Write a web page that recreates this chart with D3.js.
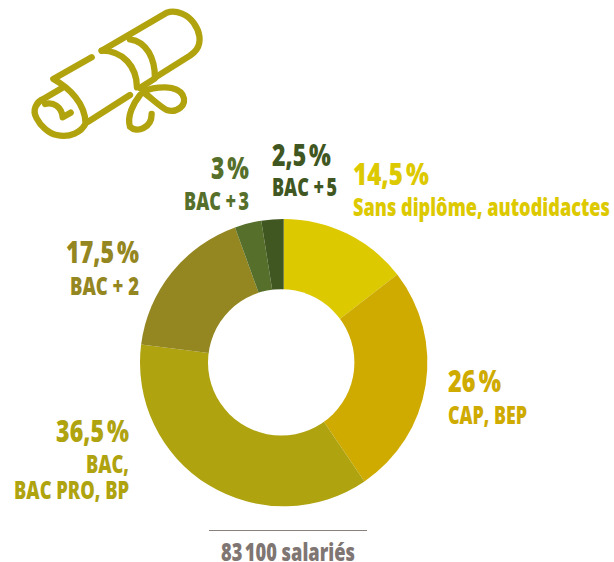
<!DOCTYPE html>
<html><head><meta charset="utf-8">
<script src="https://cdn.jsdelivr.net/npm/d3@7"></script>
<style>html,body{margin:0;background:#fff}svg{display:block}text{font-family:"Open Sans";font-weight:800}</style>
</head><body><svg id="c" width="614" height="562"></svg>
<script>
const categories=["Sans diplôme, autodidactes","CAP, BEP","BAC, BAC PRO, BP","BAC + 2","BAC +\u202F3","BAC +\u202F5"];
const values=[14.5,26,36.5,17.5,3,2.5];
const valueLabels=["14,5\u202F%","26\u202F%","36,5\u202F%","17,5\u202F%","3\u202F%","2,5\u202F%"];
const colors=["#ddc900","#cfab00","#afa30f","#948620","#56702b","#415722"];
const total="83\u202F100 salariés";
const svg=d3.select("#c");
const pie=d3.pie().sort(null).value(d=>d)(values);
const arc=d3.arc().innerRadius(0).outerRadius(143.7);
svg.append("g").attr("transform","translate(283.7,362.6)").selectAll("path").data(pie).join("path")
 .attr("d",arc).attr("fill",(d,i)=>colors[i]);
svg.append("circle").attr("cx",281.2).attr("cy",362.4).attr("r",73.2).attr("fill","#fff");
function label(lines,x,y,size,w,anchor,fill,lh){
 const t=svg.append("text").attr("font-size",size).attr("text-anchor",anchor).attr("fill",fill);
 [].concat(lines).forEach((s,i)=>t.append("tspan").attr("x",0).attr("dy",i?lh:0).text(s));
 const len=t.node().getBBox().width;
 t.attr("transform",`translate(${x},${y}) scale(${w/len},1)`);
 return t;
}
label(valueLabels[0],353,185,29.5,76,"start",colors[0]);
label(categories[0],353,216,24,257,"start",colors[0]);
label(valueLabels[1],448,392,29.5,53,"start",colors[1]);
label(categories[1],448,424,24,79,"start",colors[1]);
label(valueLabels[2],129,441.7,29.5,73,"end",colors[2]);
label(["BAC,","BAC PRO, BP"],129,472.7,24,115,"end",colors[2],26);
label(valueLabels[3],139,263,29.5,73,"end",colors[3]);
label(categories[3],139,295,24,69,"end",colors[3]);
label(valueLabels[4],249,179,29.5,38,"end",colors[4]);
label(categories[4],249,210,24,65,"end",colors[4]);
label(valueLabels[5],272,166,29.5,59,"start",colors[5]);
label(categories[5],272,196,24,65,"start",colors[5]);
svg.append("line").attr("x1",209).attr("x2",367).attr("y1",530.5).attr("y2",530.5).attr("stroke","#8a807c").attr("stroke-width",1);
label(total,221,561,24,134,"start","#7f7673");
const icon=svg.append("g").attr("transform","translate(20,0) scale(0.3333)").attr("fill","none").attr("stroke","#b1a30e").attr("stroke-width",19).attr("stroke-linecap","round").attr("stroke-linejoin","round");
["M245,152 L440,38 C470,28 505,45 522,70 C540,95 545,125 530,148 C525,155 520,160 510,167 L405,233",
 "M245,152 C310,152 350,200 351,262",
 "M330,118 C380,125 405,175 405,235 L360,264",
 "M330,285 L205,365",
 "M215,172 L100,237 C150,265 195,310 197,370 C185,395 150,415 110,405 C85,400 60,375 50,355 C35,330 50,305 70,297 L125,265",
 "M75,312 C100,305 125,320 128,352 L152,338",
 "M368,275 C410,258 470,255 488,285 C505,315 470,340 440,330 C420,320 395,295 368,275",
 "M360,285 C340,310 320,350 330,380 C350,400 395,385 395,342"
].forEach(d=>icon.append("path").attr("d",d));
</script></body></html>
